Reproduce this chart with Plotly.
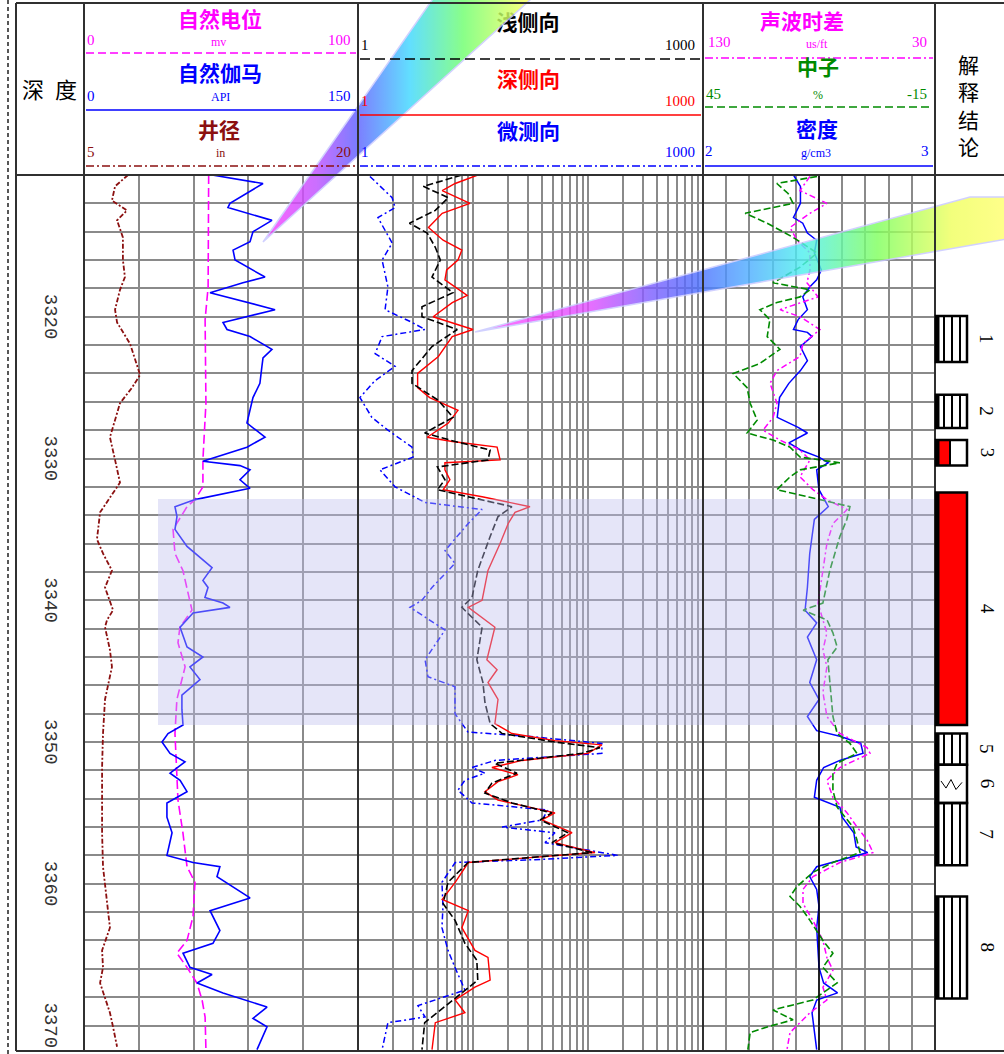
import plotly.graph_objects as go

# ======================= DATA =======================
# Depth (m) of each reading and the log value at that depth

# Track 1 - SP (自然电位, mV, 0-100)
sp_depth = [3310.0, 3317.9, 3320.2, 3326.1, 3330.1, 3332.0, 3332.9, 3333.4, 3335.0, 3336.7,
            3337.9, 3340.7, 3341.9, 3343.0, 3344.7, 3347.0, 3349.4, 3351.8, 3354.1, 3356.4,
            3358.8, 3359.9, 3362.3, 3364.0, 3364.9, 3365.9, 3367.0, 3368.2, 3369.4, 3371.7]
sp_mv = [45.5, 45.3, 44.2, 44.5, 43.4, 43.4, 40.5, 37.6, 32.5, 33.2,
         36.1, 39.4, 35.0, 34.3, 36.9, 33.9, 33.2, 33.9, 34.3, 36.1,
         37.6, 40.5, 39.8, 37.6, 33.9, 37.6, 41.2, 43.1, 44.2, 44.5]

# Track 1 - GR (自然伽马, API, 0-150)
gr_depth = [3310.0, 3310.6, 3312.0, 3312.3, 3313.2, 3314.0, 3314.7, 3315.3, 3316.0, 3317.2,
            3317.6, 3318.3, 3319.5, 3320.4, 3320.9, 3321.4, 3322.3, 3322.9, 3323.5, 3324.7,
            3325.7, 3326.6, 3327.5, 3328.5, 3329.2, 3330.2, 3330.5, 3330.8, 3331.5, 3332.1,
            3332.9, 3333.4, 3334.1, 3335.0, 3336.2, 3337.7, 3338.6, 3339.1, 3339.8, 3340.2,
            3340.5, 3340.9, 3341.9, 3343.3, 3344.0, 3344.7, 3345.6, 3346.7, 3347.7, 3348.8,
            3349.4, 3350.0, 3350.8, 3351.4, 3352.2, 3352.7, 3353.5, 3354.3, 3355.3, 3356.4,
            3358.0, 3358.5, 3358.8, 3359.5, 3361.0, 3361.9, 3363.3, 3364.2, 3364.9, 3365.9,
            3366.4, 3367.0, 3367.7, 3368.7, 3369.5, 3370.1, 3371.7]
gr_api = [70.1, 98.0, 79.9, 78.8, 102.9, 92.5, 90.9, 81.6, 82.7, 99.1,
          87.0, 69.0, 104.6, 76.1, 78.3, 90.9, 102.9, 98.0, 97.4, 96.3,
          92.5, 90.9, 89.2, 99.1, 89.2, 65.1, 85.4, 90.9, 85.4, 90.9,
          60.8, 49.8, 50.9, 49.8, 56.4, 70.1, 65.1, 67.9, 66.2, 76.1,
          79.9, 59.7, 52.6, 56.4, 65.1, 58.0, 63.5, 53.6, 53.6, 54.2,
          46.0, 42.7, 47.1, 55.3, 47.1, 52.6, 56.4, 45.4, 45.4, 48.2,
          45.4, 59.7, 74.4, 72.8, 90.9, 69.0, 74.4, 70.6, 54.2, 58.0,
          70.1, 61.9, 76.1, 100.2, 92.5, 100.2, 94.7]

# Track 1 - Caliper (井径, in, 5-20)
cal_depth = [3310.0, 3310.8, 3311.8, 3312.5, 3313.2, 3314.4, 3316.0, 3317.2, 3318.1, 3319.5,
             3320.4, 3321.9, 3324.1, 3325.0, 3326.1, 3328.5, 3330.1, 3331.7, 3333.8, 3335.7,
             3336.7, 3337.9, 3339.1, 3340.7, 3341.4, 3341.9, 3343.5, 3344.7, 3347.0, 3349.4,
             3351.8, 3354.1, 3356.4, 3358.8, 3361.1, 3363.1, 3364.7, 3365.9, 3367.0, 3369.1,
             3370.1, 3371.5]
cal_in = [7.41, 6.70, 6.53, 7.35, 6.81, 7.13, 7.13, 7.24, 6.97, 6.70,
          6.81, 7.52, 8.07, 7.63, 6.97, 6.42, 6.70, 6.97, 5.88, 5.71,
          6.04, 6.53, 6.15, 6.59, 6.26, 6.15, 6.42, 6.53, 6.15, 6.04,
          5.99, 5.99, 5.99, 6.04, 6.26, 6.42, 5.99, 6.04, 5.88, 6.42,
          6.59, 6.81]

# Track 2 - shallow laterolog (浅侧向, ohm.m, 1-1000 log)
lls_depth = [3310.0, 3310.8, 3311.6, 3312.5, 3313.4, 3314.1, 3315.1, 3316.0, 3317.2, 3318.3,
             3319.3, 3320.0, 3320.9, 3322.1, 3323.8, 3324.7, 3325.9, 3327.1, 3328.2, 3328.8,
             3329.4, 3330.1, 3330.6, 3331.5, 3332.2, 3332.8, 3333.4, 3334.1, 3335.5, 3337.9,
             3339.8, 3340.5, 3341.9, 3344.2, 3345.8, 3347.2, 3348.7, 3349.4, 3350.0, 3350.4,
             3350.8, 3351.5, 3352.2, 3352.9, 3353.6, 3354.3, 3355.0, 3355.5, 3356.4, 3357.1,
             3357.8, 3358.5, 3359.9, 3361.4, 3362.6, 3364.2, 3365.4, 3366.8, 3367.7, 3368.7,
             3369.8, 3371.7]
lls_ohm = [8.0, 3.7, 6.1, 4.7, 2.8, 4.0, 4.7, 5.2, 4.4, 6.7,
           3.6, 3.6, 7.3, 4.4, 2.95, 2.95, 5.0, 6.7, 3.8, 7.0,
           14.1, 13.5, 4.9, 5.7, 4.9, 10.4, 21.8, 16.5, 14.1, 11.0,
           9.8, 8.0, 12.0, 10.8, 12.2, 12.7, 14.1, 17.9, 51.6, 127.0,
           88.7, 15.5, 24.1, 14.6, 12.7, 21.8, 48.6, 38.3, 67.0, 48.6,
           108.0, 9.05, 6.06, 5.5, 7.0, 8.5, 10.8, 11.0, 8.0, 5.5,
           3.8, 3.6]

# Track 2 - deep laterolog (深侧向)
lld_depth = [3310.0, 3310.6, 3311.1, 3312.0, 3312.7, 3313.7, 3314.6, 3315.3, 3316.0, 3316.7,
             3317.4, 3318.5, 3319.0, 3320.0, 3320.9, 3321.4, 3322.8, 3324.0, 3325.0, 3325.7,
             3326.6, 3327.5, 3328.5, 3328.8, 3329.2, 3330.1, 3330.3, 3330.8, 3331.5, 3332.2,
             3332.7, 3333.4, 3333.8, 3334.6, 3336.0, 3337.9, 3340.0, 3340.5, 3341.9, 3344.2,
             3344.9, 3345.8, 3347.0, 3348.7, 3349.4, 3349.9, 3350.2, 3350.8, 3351.3, 3351.8,
             3352.2, 3352.3, 3352.8, 3353.5, 3354.1, 3354.8, 3355.0, 3355.5, 3356.4, 3357.1,
             3357.8, 3358.3, 3358.5, 3359.9, 3361.1, 3361.9, 3363.1, 3364.7, 3365.2, 3366.8,
             3367.3, 3368.2, 3369.1, 3369.8, 3371.7]
lld_ohm = [11.0, 7.0, 5.4, 9.4, 5.4, 4.1, 5.5, 8.0, 7.4, 5.9,
           5.7, 8.9, 6.6, 4.5, 10.0, 6.6, 5.0, 3.3, 3.3, 4.2,
           7.4, 6.1, 4.0, 6.6, 16.2, 17.2, 5.7, 5.7, 6.3, 5.5,
           12.0, 31.3, 23.2, 20.2, 17.2, 13.5, 12.0, 9.1, 15.5, 13.2,
           16.2, 13.5, 16.5, 15.5, 21.8, 51.6, 132.0, 100.0, 26.7, 14.6,
           21.8, 24.6, 16.5, 12.7, 16.5, 39.8, 51.6, 39.8, 72.6, 51.6,
           115.0, 19.0, 9.1, 7.0, 5.4, 9.1, 8.0, 10.4, 13.5, 14.1,
           10.4, 7.0, 8.5, 4.7, 4.4]

# Track 2 - micro laterolog (微测向)
msfl_depth = [3310.1, 3311.6, 3312.3, 3313.0, 3314.8, 3316.0, 3317.9, 3319.5, 3320.4, 3320.9,
              3321.4, 3322.6, 3323.5, 3324.5, 3325.7, 3327.1, 3328.0, 3329.2, 3329.9, 3330.8,
              3332.0, 3333.1, 3333.6, 3334.6, 3336.5, 3337.4, 3339.1, 3340.0, 3340.5, 3341.2,
              3342.1, 3344.2, 3345.4, 3346.1, 3348.0, 3349.3, 3349.6, 3350.1, 3350.8, 3351.3,
              3351.8, 3352.2, 3352.7, 3353.4, 3354.3, 3354.8, 3355.5, 3356.0, 3356.4, 3357.1,
              3358.0, 3358.3, 3358.5, 3359.9, 3361.6, 3363.1, 3364.7, 3365.9, 3367.5, 3368.6,
              3369.4, 3369.8, 3371.7]
msfl_ohm = [1.27, 1.98, 2.10, 1.49, 1.98, 1.62, 1.82, 1.72, 2.95, 3.83,
            1.62, 1.41, 2.10, 1.41, 1.04, 1.32, 1.82, 2.95, 3.01, 1.55,
            2.10, 3.83, 12.0, 9.05, 5.71, 6.97, 4.40, 3.60, 2.83, 3.83,
            5.71, 3.83, 4.06, 6.97, 6.97, 9.05, 30.1, 132.0, 132.0, 15.5,
            9.8, 12.7, 8.5, 7.4, 9.8, 44.9, 39.8, 17.9, 51.6, 42.3,
            182.0, 34.6, 7.0, 5.37, 5.48, 5.37, 6.06, 6.97, 8.5, 3.32,
            3.83, 1.82, 1.62]

# Track 3 - sonic (声波时差, us/ft, 130-30)
ac_depth = [3310.1, 3311.1, 3312.0, 3312.7, 3313.7, 3314.6, 3315.5, 3316.7, 3317.6, 3318.6,
            3319.5, 3320.0, 3320.9, 3321.9, 3322.8, 3323.8, 3324.7, 3326.1, 3327.1, 3328.0,
            3328.7, 3329.4, 3330.1, 3331.3, 3332.2, 3332.9, 3333.6, 3334.6, 3336.0, 3337.9,
            3340.2, 3341.4, 3342.3, 3343.5, 3344.7, 3346.5, 3348.2, 3349.4, 3350.4, 3350.8,
            3351.8, 3352.7, 3353.9, 3355.0, 3356.0, 3356.9, 3357.8, 3358.5, 3359.5, 3360.4,
            3361.4, 3362.6, 3364.0, 3365.2, 3366.1, 3367.3, 3368.2, 3369.1, 3369.8, 3370.5,
            3371.7]
ac_us = [83.9, 88.2, 76.6, 83.9, 92.5, 89.5, 83.9, 83.9, 85.2, 80.4,
         96.8, 88.2, 79.6, 86.9, 88.2, 98.1, 101.1, 98.1, 99.8, 104.1,
         96.8, 88.2, 83.9, 88.2, 82.6, 76.6, 67.9, 74.0, 76.6, 78.3,
         80.4, 78.3, 76.6, 78.3, 76.6, 78.3, 76.6, 71.0, 59.3, 58.0,
         71.0, 76.6, 74.0, 67.9, 63.6, 59.3, 56.7, 71.0, 82.6, 86.9,
         86.9, 82.6, 78.3, 76.6, 74.0, 78.3, 76.6, 83.9, 88.2, 92.5,
         93.8]

# Track 3 - neutron (中子, %, 45 to -15)
cnl_depth = [3310.1, 3310.6, 3311.3, 3312.0, 3312.7, 3313.4, 3314.4, 3315.5, 3316.5, 3317.6,
             3318.1, 3318.6, 3319.0, 3319.5, 3320.2, 3321.4, 3322.3, 3323.3, 3324.0, 3325.0,
             3326.1, 3327.3, 3328.2, 3328.7, 3329.2, 3329.9, 3330.3, 3330.8, 3331.3, 3332.2,
             3332.9, 3333.4, 3334.3, 3335.5, 3337.9, 3340.2, 3340.7, 3341.4, 3342.3, 3343.3,
             3344.2, 3345.8, 3348.2, 3349.4, 3350.1, 3350.8, 3351.5, 3352.2, 3353.4, 3354.6,
             3356.0, 3356.9, 3357.8, 3358.5, 3359.2, 3360.2, 3360.9, 3361.6, 3362.6, 3364.0,
             3364.9, 3365.9, 3367.0, 3368.2, 3368.9, 3369.6, 3370.1, 3370.5, 3371.7]
cnl_pct = [15.5, 25.9, 23.0, 21.7, 34.1, 28.4, 21.7, 15.5, 19.9, 26.9,
           17.3, 19.9, 25.9, 30.3, 27.7, 28.4, 25.1, 30.3, 37.2, 33.6,
           32.8, 31.0, 33.6, 26.9, 22.5, 19.9, 9.6, 19.9, 22.5, 25.9,
           14.7, 7.0, 7.8, 9.6, 12.2, 14.0, 19.1, 12.9, 11.4, 10.3,
           12.7, 12.2, 11.4, 10.3, 7.0, 5.2, 10.3, 11.4, 11.4, 10.3,
           6.2, 5.2, 4.4, 11.4, 16.6, 20.7, 22.5, 19.9, 17.3, 14.0,
           11.4, 14.0, 10.3, 16.6, 26.9, 21.7, 28.4, 32.8, 33.4]

# Track 3 - density (密度, g/cm3, 2-3)
den_depth = [3310.0, 3310.8, 3312.0, 3313.0, 3313.4, 3314.1, 3314.6, 3315.5, 3316.7, 3317.4,
             3317.9, 3318.6, 3319.5, 3320.2, 3320.9, 3321.1, 3321.4, 3322.1, 3323.1, 3323.8,
             3324.7, 3325.7, 3327.1, 3327.8, 3328.2, 3328.9, 3329.4, 3329.9, 3330.3, 3330.8,
             3332.2, 3332.8, 3333.4, 3334.3, 3336.7, 3339.1, 3340.7, 3341.6, 3342.6, 3344.2,
             3345.8, 3347.0, 3348.2, 3349.2, 3349.6, 3350.1, 3350.8, 3351.3, 3351.8, 3352.7,
             3353.9, 3354.6, 3355.3, 3356.4, 3357.4, 3357.8, 3358.3, 3358.8, 3359.5, 3360.4,
             3361.6, 3363.1, 3365.9, 3367.0, 3367.7, 3368.2, 3369.1, 3371.7]
den_gcc = [2.39, 2.42, 2.42, 2.39, 2.43, 2.45, 2.49, 2.48, 2.51, 2.49,
           2.46, 2.43, 2.45, 2.41, 2.39, 2.45, 2.47, 2.42, 2.45, 2.42,
           2.37, 2.33, 2.32, 2.41, 2.45, 2.37, 2.42, 2.50, 2.54, 2.49,
           2.50, 2.52, 2.54, 2.48, 2.46, 2.45, 2.44, 2.49, 2.45, 2.49,
           2.46, 2.50, 2.45, 2.49, 2.59, 2.68, 2.69, 2.59, 2.52, 2.49,
           2.48, 2.59, 2.60, 2.65, 2.66, 2.71, 2.60, 2.49, 2.46, 2.49,
           2.50, 2.49, 2.50, 2.52, 2.58, 2.49, 2.47, 2.49]

# Depth scale labels
depth_labels = [3320, 3330, 3340, 3350, 3360, 3370]

# Interpretation layers (解释结论)
layer_top = [3319.95, 3325.5, 3328.7, 3332.4, 3349.4, 3351.6, 3354.3, 3360.9]
layer_bot = [3323.2, 3327.85, 3330.5, 3348.8, 3351.6, 3354.3, 3358.7, 3368.1]
layer_no = ["1", "2", "3", "4", "5", "6", "7", "8"]
layer_kind = ["stripe", "stripe", "half", "oil", "stripe", "mud", "stripe", "stripe"]

# Highlighted interval
band_top, band_bot = 3332.86, 3348.8

# ======================= LAYOUT GEOMETRY (pixels) =======================
W, H = 1004, 1054
TOP_DEPTH = 3310.0
PX_PER_M = 14.175
TRACK_TOP, TRACK_BOT = 175, 1051
BOT_DEPTH = TOP_DEPTH + (TRACK_BOT - TRACK_TOP) / PX_PER_M
FRAME_L, FRAME_T = 16, 3
SEPS = [84, 358, 703, 935]


def px(x):
    return x / W


def py(y):
    return 1 - y / H


MAG, BLUE, DRED, RED, GREEN = "#ff00ff", "#0000ff", "#8b1010", "#ff0000", "#008a00"
GRID = "#8a8a8a"
CJK = "Noto Sans CJK SC"
SERIF = "Liberation Serif"
TSIZE = 21

fig = go.Figure()

common = dict(hoverinfo="skip", showlegend=False, mode="lines")
fig.add_trace(go.Scatter(x=cal_in, y=cal_depth, xaxis="x5", yaxis="y",
                         line=dict(color=DRED, width=1.8, dash="5px,2px,2px,2px"), **common))
fig.add_trace(go.Scatter(x=sp_mv, y=sp_depth, xaxis="x", yaxis="y",
                         line=dict(color=MAG, width=1.6, dash="9px,4px"), **common))
fig.add_trace(go.Scatter(x=gr_api, y=gr_depth, xaxis="x4", yaxis="y",
                         line=dict(color=BLUE, width=1.6), **common))
fig.add_trace(go.Scatter(x=msfl_ohm, y=msfl_depth, xaxis="x2", yaxis="y",
                         line=dict(color=BLUE, width=1.5, dash="6px,3px,2px,3px"), **common))
fig.add_trace(go.Scatter(x=lld_ohm, y=lld_depth, xaxis="x2", yaxis="y",
                         line=dict(color=RED, width=1.4), **common))
fig.add_trace(go.Scatter(x=lls_ohm, y=lls_depth, xaxis="x2", yaxis="y",
                         line=dict(color="black", width=1.6, dash="7px,3px"), **common))
fig.add_trace(go.Scatter(x=cnl_pct, y=cnl_depth, xaxis="x7", yaxis="y",
                         line=dict(color=GREEN, width=1.6, dash="7px,3px"), **common))
fig.add_trace(go.Scatter(x=ac_us, y=ac_depth, xaxis="x6", yaxis="y",
                         line=dict(color=MAG, width=1.5, dash="6px,3px,2px,3px"), **common))
fig.add_trace(go.Scatter(x=den_gcc, y=den_depth, xaxis="x3", yaxis="y",
                         line=dict(color=BLUE, width=1.5), **common))

# title that the callout beam passes over (drawn beneath the beam)
fig.add_trace(go.Scatter(x=[528], y=[25], xaxis="x8", yaxis="y2", mode="text",
                         text=["<b>浅侧向</b>"], textposition="middle center",
                         textfont=dict(family=CJK, size=TSIZE, color="black"),
                         hoverinfo="skip", showlegend=False))

# decorative callout beams (pixel space overlay)
beam1_x = [263, 446, 552, 263]
beam1_y = [242, -20, -20, 242]
beam2_x = [475, 970, 1012, 1012, 475]
beam2_y = [332, 197, 197, 238, 332]
fig.add_trace(go.Scatter(
    x=beam1_x, y=beam1_y, xaxis="x8", yaxis="y2", mode="lines", fill="toself",
    line=dict(color="#c8c8ff", width=1.5), opacity=0.82,
    fillgradient=dict(type="horizontal", start=263, stop=530,
                      colorscale=[[0, "#ff40ff"], [0.2, "#c050ff"], [0.35, "#6060ff"],
                                  [0.55, "#40d8ff"], [0.75, "#70ff70"], [1, "#ffff60"]]),
    hoverinfo="skip", showlegend=False))
fig.add_trace(go.Scatter(
    x=beam2_x, y=beam2_y, xaxis="x8", yaxis="y2", mode="lines", fill="toself",
    line=dict(color="#c8c8ff", width=1.5), opacity=0.82,
    fillgradient=dict(type="horizontal", start=475, stop=1004,
                      colorscale=[[0, "#ff50ff"], [0.22, "#e050ff"], [0.33, "#8060ff"],
                                  [0.42, "#5070ff"], [0.52, "#50b0ff"], [0.62, "#50f0f0"],
                                  [0.76, "#80ff60"], [0.9, "#f0ff60"], [1, "#ffff70"]]),
    hoverinfo="skip", showlegend=False))

grid = dict(showgrid=True, gridcolor=GRID, gridwidth=1.5, zeroline=False,
            showticklabels=False, ticks="", showline=False)

layout = dict(
    width=W, height=H, margin=dict(l=0, r=0, t=0, b=0, pad=0),
    paper_bgcolor="white", plot_bgcolor="rgba(0,0,0,0)", showlegend=False,
    xaxis=dict(domain=[px(SEPS[0]), px(SEPS[1])], range=[0, 100], dtick=20, tick0=0,
               anchor="y", **grid),
    xaxis2=dict(domain=[px(SEPS[1]), px(SEPS[2])], type="log", range=[0, 3], dtick="D1",
                anchor="y", **grid),
    xaxis3=dict(domain=[px(SEPS[2]), px(SEPS[3])], range=[2, 3], dtick=0.1, tick0=2,
                anchor="y", **grid),
    xaxis4=dict(overlaying="x", range=[0, 150], anchor="y", visible=False),
    xaxis5=dict(overlaying="x", range=[5, 20], anchor="y", visible=False),
    xaxis6=dict(overlaying="x3", range=[130, 30], anchor="y", visible=False),
    xaxis7=dict(overlaying="x3", range=[45, -15], anchor="y", visible=False),
    xaxis8=dict(domain=[0, 1], range=[0, W], anchor="y2", visible=False),
    yaxis=dict(domain=[py(TRACK_BOT), py(TRACK_TOP)], range=[BOT_DEPTH, TOP_DEPTH],
               dtick=2, tick0=TOP_DEPTH, anchor="x", **grid),
    yaxis2=dict(domain=[0, 1], range=[H, 0], anchor="x8", visible=False),
)

shapes = []
ann = []


def pline(x0, y0, x1, y1, color="#303030", width=2, dash="solid", layer="above"):
    shapes.append(dict(type="line", xref="paper", yref="paper", x0=px(x0), y0=py(y0),
                       x1=px(x1), y1=py(y1), line=dict(color=color, width=width, dash=dash),
                       layer=layer))


# highlighted interval band
shapes.append(dict(type="rect", xref="paper", yref="y", x0=px(158), x1=px(946),
                   y0=band_top, y1=band_bot, fillcolor="rgba(190,190,238,0.40)",
                   line=dict(width=0), layer="above"))

# black reference line in track 3
shapes.append(dict(type="line", xref="x3", yref="paper", x0=2.5, x1=2.5,
                   y0=py(TRACK_BOT), y1=py(TRACK_TOP), line=dict(color="black", width=1.5),
                   layer="above"))

# frame
pline(8, 0, 8, H, color="#202020", width=1.5, dash="4px,3px")
pline(FRAME_L, FRAME_T, W + 2, FRAME_T)
pline(FRAME_L, FRAME_T, FRAME_L, TRACK_BOT)
pline(FRAME_L, TRACK_BOT, W + 2, TRACK_BOT)
pline(FRAME_L, TRACK_TOP, W + 2, TRACK_TOP)
for s in SEPS:
    pline(s, FRAME_T, s, TRACK_BOT)

# header curve lines
pline(86, 53, 356, 53, MAG, 1.6, "8px,4px")
pline(86, 110, 356, 110, BLUE, 1.6)
pline(86, 166, 356, 166, DRED, 1.6, "8px,3px,2px,3px")
pline(360, 59, 701, 59, "black", 1.6, "10px,5px")
pline(360, 115, 701, 115, RED, 1.6)
pline(360, 166, 701, 166, BLUE, 1.6, "8px,3px,2px,3px")
pline(705, 58, 933, 58, MAG, 1.6, "8px,3px,2px,3px")
pline(705, 107, 933, 107, GREEN, 1.6, "8px,4px")
pline(705, 166, 933, 166, BLUE, 1.6)


def text(t, x, y, color="black", size=15, family=SERIF, bold=False, angle=0, yref="paper",
         xanchor="center"):
    ann.append(dict(text=("<b>%s</b>" % t) if bold else t, x=px(x),
                    y=py(y) if yref == "paper" else y, xref="paper", yref=yref,
                    showarrow=False, xanchor=xanchor, yanchor="middle", textangle=angle,
                    borderpad=0, font=dict(color=color, size=size, family=family)))


# depth column header
text("深", 33, 88, "black", 22, CJK)
text("度", 66, 88, "black", 22, CJK)
# track 1 header
text("自然电位", 220, 18, MAG, TSIZE, CJK, True)
text("0", 91, 40, MAG)
text("mv", 218, 42, MAG, 12)
text("100", 339, 40, MAG)
text("自然伽马", 220, 72, BLUE, TSIZE, CJK, True)
text("0", 91, 96, BLUE)
text("API", 220, 97, BLUE, 12)
text("150", 339, 96, BLUE)
text("井径", 219, 129, DRED, TSIZE, CJK, True)
text("5", 91, 152, DRED)
text("in", 220, 153, DRED, 12)
text("20", 343, 152, DRED)
# track 2 header
text("1", 365, 45, "black")
text("1000", 680, 45, "black")
text("深侧向", 528, 78, RED, TSIZE, CJK, True)
text("1", 365, 101, RED)
text("1000", 680, 101, RED)
text("微测向", 528, 130, BLUE, TSIZE, CJK, True)
text("1", 365, 152, BLUE)
text("1000", 680, 152, BLUE)
# track 3 header
text("声波时差", 802, 20, MAG, TSIZE, CJK, True)
text("130", 719, 42, MAG)
text("us/ft", 817, 44, MAG, 12)
text("30", 919, 42, MAG)
text("中子", 818, 66, GREEN, TSIZE, CJK, True)
text("45", 713, 94, GREEN)
text("%", 818, 95, GREEN, 12)
text("-15", 917, 94, GREEN)
text("密度", 817, 128, BLUE, TSIZE, CJK, True)
text("2", 709, 151, BLUE)
text("g/cm3", 816, 153, BLUE, 12)
text("3", 925, 151, BLUE)
# interpretation header
text("解<br>释<br>结<br>论", 968, 105, "black", 21, CJK)

# depth labels
for d in depth_labels:
    text(str(d), 50, d, "#333333", 19, "Liberation Mono", angle=90, yref="y")

# interpretation column
BX0, BX1 = 936, 967
for top, bot, no, kind in zip(layer_top, layer_bot, layer_no, layer_kind):
    if kind == "oil":
        shapes.append(dict(type="rect", xref="paper", yref="y", x0=px(BX0), x1=px(BX1),
                           y0=top, y1=bot, fillcolor=RED, line=dict(width=0), layer="above"))
    if kind == "half":
        shapes.append(dict(type="rect", xref="paper", yref="y", x0=px(BX0 + 2), x1=px(949),
                           y0=top, y1=bot, fillcolor=RED, line=dict(width=0), layer="above"))
        shapes.append(dict(type="line", xref="paper", yref="y", x0=px(950), x1=px(950),
                           y0=top, y1=bot, line=dict(color="black", width=2), layer="above"))
    if kind == "stripe":
        for sx in (944, 952, 960):
            shapes.append(dict(type="line", xref="paper", yref="y", x0=px(sx), x1=px(sx),
                               y0=top, y1=bot, line=dict(color="black", width=2),
                               layer="above"))
    if kind == "mud":
        m = (top + bot) / 2
        pts = [(941, m - 0.2), (946, m + 0.3), (951, m - 0.3), (956, m + 0.4), (962, m - 0.1)]
        path = "M " + " L ".join("%.5f,%.3f" % (px(a), b) for a, b in pts)
        shapes.append(dict(type="path", xref="paper", yref="y", path=path,
                           line=dict(color="black", width=1), layer="above"))
    shapes.append(dict(type="rect", xref="paper", yref="y", x0=px(BX0), x1=px(BX1),
                       y0=top, y1=bot, line=dict(color="black", width=2.5), layer="above"))
    shapes.append(dict(type="line", xref="paper", yref="y", x0=px(BX0 + 1.5),
                       x1=px(BX0 + 1.5), y0=top, y1=bot, line=dict(color="black", width=4),
                       layer="above"))
    text(no, 987, (top + bot) / 2, "black", 19, SERIF, angle=90, yref="y")

layout["shapes"] = shapes
layout["annotations"] = ann
fig.update_layout(**layout)
fig.write_html("out.html")
